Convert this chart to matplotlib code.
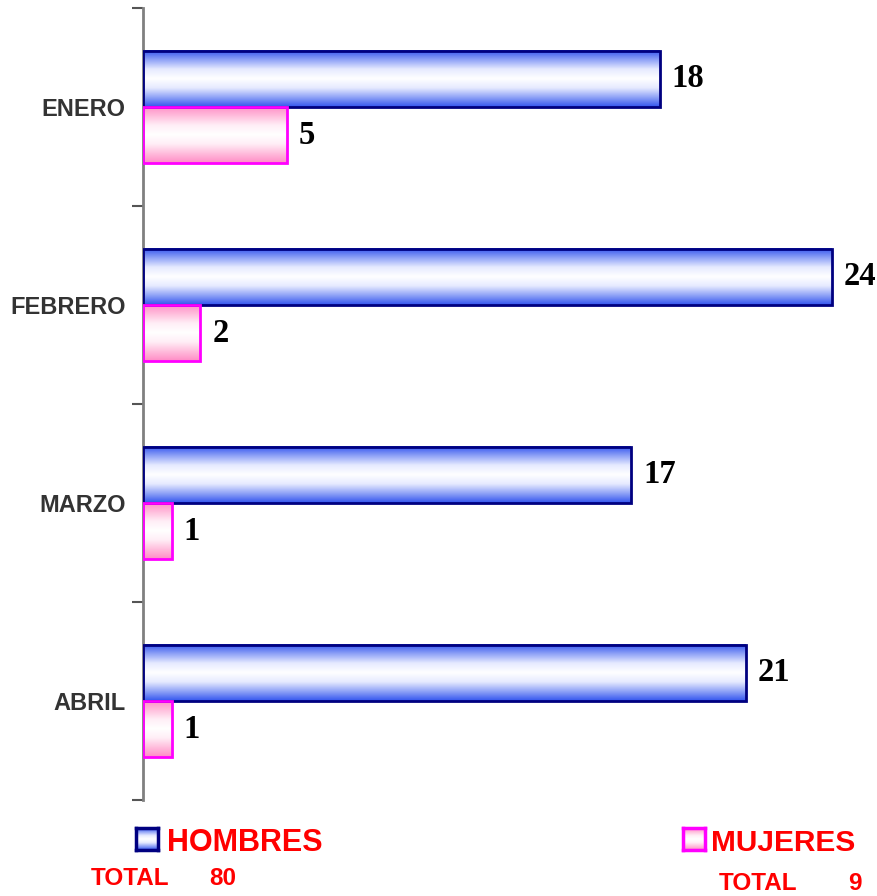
import matplotlib.pyplot as plt
import numpy as np
from matplotlib.colors import LinearSegmentedColormap

meses = ["ENERO", "FEBRERO", "MARZO", "ABRIL"]
hombres = [18, 24, 17, 21]
mujeres = [5, 2, 1, 1]
total_hombres = 80
total_mujeres = 9

# degradados tipo Excel: color en los bordes, blanco al centro
cmap_azul = LinearSegmentedColormap.from_list(
    "azul", ["#3355ee", "#8fa2f7", "#e6eaff", "#ffffff", "#e6eaff", "#8fa2f7", "#3355ee"])
cmap_rosa = LinearSegmentedColormap.from_list(
    "rosa", ["#ff8cc6", "#ffbddc", "#ffeef6", "#ffffff", "#ffeef6", "#ffbddc", "#ff8cc6"])
grad = np.linspace(0, 1, 128).reshape(-1, 1)

fig = plt.figure(figsize=(8.77, 8.96), dpi=100)
ax = fig.add_axes([143 / 877, 1 - 800 / 896, 1 - 143 / 877, 792 / 896])

y = np.arange(len(meses))
h = 0.285


def barra_degradado(ax, valor, yc, cmap, borde):
    y0, y1 = yc - h / 2, yc + h / 2
    ax.imshow(grad, cmap=cmap, aspect="auto", extent=[0, valor, y1, y0],
              interpolation="bilinear", zorder=2)
    ax.barh(yc, valor, height=h, facecolor="none", edgecolor=borde,
            linewidth=2, zorder=3)
    ax.text(valor + 0.42, yc, str(valor), va="center", ha="left",
            fontsize=23.5, fontweight="bold", family="Liberation Serif", color="black")


for i in range(len(meses)):
    barra_degradado(ax, hombres[i], y[i] - h / 2, cmap_azul, "#000080")
    barra_degradado(ax, mujeres[i], y[i] + h / 2, cmap_rosa, "#ff00ff")

ax.set_xlim(0, 25.57)
ax.set_ylim(len(meses) - 0.5, -0.5)

ax.set_yticks(y)
ax.set_yticklabels(meses, fontsize=17, fontweight="bold",
                   family="Liberation Sans", color="#333333")
ax.tick_params(axis="y", which="major", length=0, pad=12.5)
ax.set_yticks(np.arange(-0.5, len(meses), 1), minor=True)
ax.tick_params(axis="y", which="minor", length=8, width=1.5, color="#555555")
ax.set_xticks([])

for s in ["top", "right", "bottom"]:
    ax.spines[s].set_visible(False)
ax.spines["left"].set_color("#808080")
ax.spines["left"].set_linewidth(2)


# leyenda
def cuadro(x, yy, cmap, borde):
    a = fig.add_axes([x / 877, 1 - (yy + 22) / 896, 22 / 877, 22 / 896])
    a.imshow(grad, cmap=cmap, aspect="auto", interpolation="bilinear")
    a.set_xticks([])
    a.set_yticks([])
    for s in a.spines.values():
        s.set_color(borde)
        s.set_linewidth(2.5)


cuadro(136, 828, cmap_azul, "#000080")
cuadro(683, 828, cmap_rosa, "#ff00ff")

rojo = "#ff0000"
fig.text(167 / 877, 1 - 851 / 896, "HOMBRES", fontsize=22, fontweight="bold",
         family="Liberation Sans", color=rojo, va="baseline")
fig.text(711 / 877, 1 - 851 / 896, "MUJERES", fontsize=21.5, fontweight="bold",
         family="Liberation Sans", color=rojo, va="baseline")
fig.text(91 / 877, 1 - 885 / 896, "TOTAL", fontsize=17.5, fontweight="bold",
         family="Liberation Sans", color=rojo, va="baseline")
fig.text(209 / 877, 1 - 885 / 896, str(total_hombres), fontsize=17.5, fontweight="bold",
         family="Liberation Sans", color=rojo, va="baseline")
fig.text(719 / 877, 1 - 890 / 896, "TOTAL", fontsize=17.5, fontweight="bold",
         family="Liberation Sans", color=rojo, va="baseline")
fig.text(848 / 877, 1 - 890 / 896, str(total_mujeres), fontsize=17.5, fontweight="bold",
         family="Liberation Sans", color=rojo, va="baseline")

fig.savefig("out.png", dpi=100)
